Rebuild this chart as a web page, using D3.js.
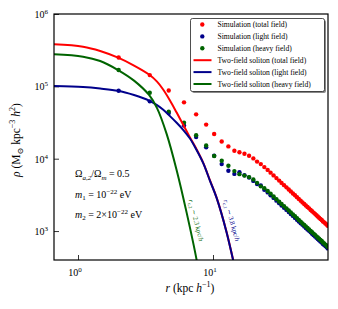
<!DOCTYPE html>
<html>
<head>
<meta charset="utf-8">
<script src="https://cdn.jsdelivr.net/npm/d3@7"></script>
<style>
    body { margin: 0; background: #fff; }
    svg { display: block; font-family: "Liberation Serif", "DejaVu Serif", serif; }
</style>
</head>
<body>
<svg id="chart" width="338" height="309"></svg>
<script>
// simulation profile (r in kpc/h, rho in Msun kpc^-3 h^2)
const rSim = [2.0, 3.4, 4.7, 6.1, 7.5, 8.9, 10.2, 11.6, 13.0, 14.4, 15.7, 17.1, 18.5, 19.9, 21.2, 22.6,
    24.0, 25.4, 26.7, 28.1, 29.5, 30.9, 32.2, 33.6, 35.0, 36.4, 37.7, 39.1, 40.5, 41.9, 43.2, 44.6, 46.0,
    47.4, 48.7, 50.1, 51.5, 52.9, 54.2, 55.6, 57.0, 58.4, 59.7, 61.1, 62.5, 63.9, 65.2, 66.6, 68.0, 69.4, 70.7];
const rhoTotal = [2.50e5, 1.43e5, 8.75e4, 6.01e4, 4.10e4, 2.96e4, 2.19e4, 1.73e4, 1.48e4, 1.29e4, 1.23e4,
    1.17e4, 1.10e4, 1.01e4, 9120, 8420, 7650, 7000, 6420, 5880, 5390, 4980, 4630, 4310, 4020, 3760, 3530,
    3310, 3120, 2940, 2780, 2630, 2490, 2370, 2260, 2150, 2060, 1960, 1880, 1800, 1730, 1650, 1590, 1530,
    1470, 1420, 1360, 1320, 1270, 1230, 1180];
const rhoLight = [8.7e4, 6.2e4, 4.27e4, 2.87e4, 1.99e4, 1.44e4, 1.10e4, 8420, 6800, 6160, 6500, 5900, 5500,
    4930, 4480, 4270, 3730, 3420, 3130, 2870, 2630, 2430, 2260, 2100, 1960, 1830, 1720, 1620, 1520, 1430,
    1360, 1280, 1220, 1160, 1100, 1050, 1010, 960, 917, 878, 844, 805, 776, 747, 717, 693, 664, 644, 620, 600, 576];
const rhoHeavy = [1.68e5, 8.15e4, 4.48e4, 3.14e4, 2.11e4, 1.52e4, 1.09e4, 9350, 7980, 6740, 6120, 5840, 5570,
    5170, 4640, 4150, 3920, 3580, 3290, 3010, 2760, 2550, 2370, 2210, 2060, 1930, 1810, 1690, 1600, 1510,
    1420, 1350, 1270, 1210, 1160, 1100, 1050, 1000, 963, 922, 886, 845, 814, 783, 753, 727, 696, 676, 650, 630, 604];

// two-field soliton curves
const rFit = [0.664, 1.09, 1.46, 1.98, 2.6, 3.36, 3.85, 4.26, 4.8, 5.38, 6.03, 6.75, 7.57, 8.48, 9.5, 10.65, 12.6, 14.1, 15.0];
const fitTotal = [3.81e5, 3.53e5, 3.08e5, 2.49e5, 1.94e5, 1.456e5, 1.16e5, 9.12e4, 6.38e4, 4.34e4, 2.92e4, 1.97e4,
    1.34e4, 8.7e3, 5.0e3, 2.87e3, 970, 398, 250];
const fitLight = [1.01e5, 9.78e4, 9.33e4, 8.69e4, 7.58e4, 6.36e4, 5.51e4, 4.78e4, 3.88e4, 3.14e4, 2.49e4, 1.9e4,
    1.31e4, 8.61e3, 4.95e3, 2.85e3, 966, 396, 245];
const rFitHeavy = [0.664, 1.09, 1.46, 1.98, 2.6, 3.36, 3.85, 4.54, 5.38, 6.39, 7.57, 7.9];
const fitHeavy = [2.77e5, 2.57e5, 2.24e5, 1.68e5, 1.20e5, 7.6e4, 5.01e4, 2.19e4, 6950, 1770, 396, 245];

const xMajor = [1, 10];
const xMinor = [0.7, 0.8, 0.9, 2, 3, 4, 5, 6, 7, 8, 9, 20, 30, 40, 50, 60, 70];
const yMajor = [1e3, 1e4, 1e5, 1e6];
const yMinor = [];
[100, 1000, 1e4, 1e5].forEach((d) => { for (let k = 2; k <= 9; k++) if (d * k >= 400) yMinor.push(d * k); });

const RED = "#ff0000", BLUE = "#00008b", GREEN = "#006400";

const box = { left: 54, right: 328, top: 14, bottom: 260 };
const svg = d3.select("#chart");

const x = d3.scaleLog().domain([0.664, 71.1]).range([box.left, box.right]);
const y = d3.scaleLog().domain([398, 1e6]).range([box.bottom, box.top]);

// rich text helper: parts = [{t, i, sub, sup}]
function rich(sel, parts, fs) {
    let shift = 0;
    parts.forEach((p) => {
        const target = p.sup ? -0.4 * fs : p.sub ? 0.25 * fs : 0;
        sel.append("tspan")
            .attr("dy", target - shift)
            .attr("font-size", p.sup || p.sub ? fs * 0.7 : fs)
            .attr("font-style", p.i ? "italic" : null)
            .text(p.t);
        shift = target;
    });
}

svg.append("defs").append("clipPath").attr("id", "clip")
    .append("rect")
    .attr("x", box.left).attr("y", box.top)
    .attr("width", box.right - box.left).attr("height", box.bottom - box.top);

// axes ticks (inward)
const gx = svg.append("g").attr("transform", `translate(0,${box.bottom})`);
gx.call(d3.axisBottom(x).tickValues(xMinor).tickSize(-2.5).tickFormat(""));
gx.call(d3.axisBottom(x).tickValues(xMajor).tickSize(-5).tickFormat(""));
gx.selectAll(".domain").remove();

const gy = svg.append("g").attr("transform", `translate(${box.left},0)`);
gy.call(d3.axisLeft(y).tickValues(yMinor).tickSize(-2.5).tickFormat(""));
gy.call(d3.axisLeft(y).tickValues(yMajor).tickSize(-5).tickFormat(""));
gy.selectAll(".domain").remove();
svg.selectAll(".tick line").attr("stroke", "#000").attr("stroke-width", 0.8);

// tick labels 10^n
xMajor.forEach((v) => {
    const t = svg.append("text").attr("x", x(v) - 3).attr("y", 276).attr("text-anchor", "middle");
    rich(t, [{ t: "10" }, { t: String(Math.round(Math.log10(v))), sup: true }], 10);
});
yMajor.forEach((v) => {
    const t = svg.append("text").attr("x", 48).attr("y", y(v) + 4).attr("text-anchor", "end");
    rich(t, [{ t: "10" }, { t: String(Math.round(Math.log10(v))), sup: true }], 10);
});

const plot = svg.append("g").attr("clip-path", "url(#clip)");

// simulation points
[[rhoTotal, RED], [rhoLight, BLUE], [rhoHeavy, GREEN]].forEach(([vals, col]) => {
    plot.append("g").selectAll("circle")
        .data(rSim.map((r, i) => [r, vals[i]]))
        .enter()
        .append("circle")
        .attr("cx", (d) => x(d[0]))
        .attr("cy", (d) => y(d[1]))
        .attr("r", 2.2)
        .attr("fill", col);
});

// soliton lines
const line = d3.line().x((d) => x(d[0])).y((d) => y(d[1])).curve(d3.curveCatmullRom.alpha(0.5));
[[rFit, fitTotal, RED], [rFit, fitLight, BLUE], [rFitHeavy, fitHeavy, GREEN]].forEach(([rs, vals, col]) => {
    plot.append("path")
        .attr("d", line(rs.map((r, i) => [r, vals[i]])))
        .attr("fill", "none")
        .attr("stroke", col)
        .attr("stroke-width", 2);
});

// frame
svg.append("rect")
    .attr("x", box.left).attr("y", box.top)
    .attr("width", box.right - box.left).attr("height", box.bottom - box.top)
    .attr("fill", "none").attr("stroke", "#000").attr("stroke-width", 1.2);

// core radius labels
const gl = svg.append("text").attr("transform", "translate(194,221) rotate(76)")
    .attr("text-anchor", "middle").attr("fill", GREEN);
rich(gl, [{ t: "r", i: true }, { t: "c,2", sub: true }, { t: " ∼ 2.3 kpc/" }, { t: "h", i: true }], 6.8);
const bl = svg.append("text").attr("transform", "translate(229.5,221) rotate(74)")
    .attr("text-anchor", "middle").attr("fill", BLUE);
rich(bl, [{ t: "r", i: true }, { t: "c,1", sub: true }, { t: " ∼ 3.8 kpc/" }, { t: "h", i: true }], 6.8);

// parameter annotations
rich(svg.append("text").attr("x", 75).attr("y", 177),
    [{ t: "Ω" }, { t: "a,2", sub: true, i: true }, { t: "/Ω" }, { t: "m", sub: true, i: true }, { t: " = 0.5" }], 10);
rich(svg.append("text").attr("x", 75).attr("y", 197.5),
    [{ t: "m", i: true }, { t: "1", sub: true }, { t: " = 10" }, { t: "−22", sup: true }, { t: " eV" }], 10);
rich(svg.append("text").attr("x", 75).attr("y", 217.5),
    [{ t: "m", i: true }, { t: "2", sub: true }, { t: " = 2×10" }, { t: "−22", sup: true }, { t: " eV" }], 10);

// axis labels
rich(svg.append("text").attr("x", 190).attr("y", 292).attr("text-anchor", "middle"),
    [{ t: "r", i: true }, { t: " (kpc " }, { t: "h", i: true }, { t: "−1", sup: true }, { t: ")" }], 11.5);
rich(svg.append("text").attr("transform", "translate(20,140) rotate(-90)").attr("text-anchor", "middle"),
    [{ t: "ρ", i: true }, { t: " (M" }, { t: "⊙", sub: true }, { t: " kpc" }, { t: "−3", sup: true },
     { t: " " }, { t: "h", i: true }, { t: "2", sup: true }, { t: ")" }], 11.5);

// legend
const legend = svg.append("g");
legend.append("rect").attr("x", 192).attr("y", 20).attr("width", 134).attr("height", 73)
    .attr("rx", 2).attr("fill", "#888");
legend.append("rect").attr("x", 190.5).attr("y", 18.5).attr("width", 134).attr("height", 73)
    .attr("rx", 2).attr("fill", "#fff").attr("stroke", "#222").attr("stroke-width", 0.8);
const legendItems = [
    ["Simulation (total field)", RED, "dot"],
    ["Simulation (light field)", BLUE, "dot"],
    ["Simulation (heavy field)", GREEN, "dot"],
    ["Two-field soliton (total field)", RED, "line"],
    ["Two-field soliton (light field)", BLUE, "line"],
    ["Two-field soliton (heavy field)", GREEN, "line"],
];
legendItems.forEach(([label, col, kind], i) => {
    const cy = 24.5 + i * 11.9;
    if (kind === "dot") {
        legend.append("circle").attr("cx", 202.3).attr("cy", cy).attr("r", 2.2).attr("fill", col);
    } else {
        legend.append("line").attr("x1", 193.5).attr("x2", 211.5).attr("y1", cy).attr("y2", cy)
            .attr("stroke", col).attr("stroke-width", 2);
    }
    legend.append("text").attr("x", 217.5).attr("y", cy + 2.6).attr("font-size", 7.6).text(label);
});
</script>
</body>
</html>
